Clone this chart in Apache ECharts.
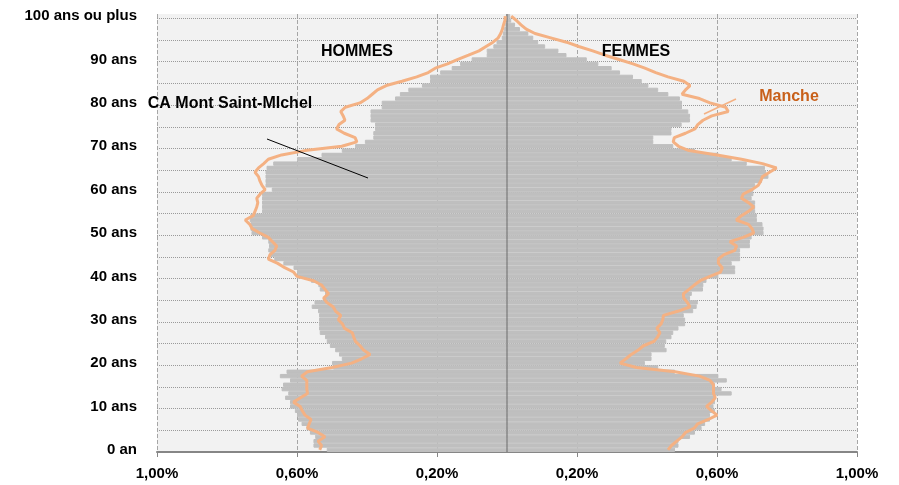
<!DOCTYPE html>
<html>
<head>
<meta charset="utf-8">
<script src="https://cdn.jsdelivr.net/npm/echarts@6/dist/echarts.min.js"></script>
<style>
  html, body { margin: 0; padding: 0; background: #fff; }
  #chart { width: 899px; height: 485px; }
</style>
</head>
<body>
<div id="chart"></div>
<script>
// ages 0 .. 100 (bottom to top)
var ages = [];
for (var a = 0; a <= 100; a++) { ages.push(String(a)); }

// part of each age in the population, in %
var caHommes = [
  0.515, 0.553, 0.553, 0.548, 0.563, 0.573, 0.587, 0.597, 0.600, 0.606,
  0.620, 0.620, 0.634, 0.625, 0.644, 0.640, 0.620, 0.649, 0.630, 0.497,
  0.500, 0.472, 0.480, 0.491, 0.506, 0.515, 0.520, 0.535, 0.537, 0.537,
  0.537, 0.537, 0.540, 0.558, 0.550, 0.520, 0.520, 0.535, 0.539, 0.560,
  0.600, 0.600, 0.610, 0.639, 0.665, 0.677, 0.682, 0.680, 0.682, 0.700,
  0.730, 0.733, 0.733, 0.735, 0.733, 0.700, 0.700, 0.700, 0.700, 0.700,
  0.672, 0.690, 0.690, 0.690, 0.690, 0.687, 0.668, 0.600, 0.530, 0.472,
  0.434, 0.406, 0.382, 0.382, 0.377, 0.377, 0.390, 0.390, 0.390, 0.358,
  0.358, 0.320, 0.306, 0.282, 0.243, 0.220, 0.220, 0.191, 0.158, 0.134,
  0.101, 0.058, 0.058, 0.039, 0.030, 0.015, 0.012, 0.008, 0.005, 0.003,
  0.003
];
var caFemmes = [
  0.480, 0.490, 0.490, 0.523, 0.537, 0.556, 0.566, 0.580, 0.580, 0.594,
  0.590, 0.594, 0.594, 0.642, 0.613, 0.594, 0.628, 0.604, 0.480, 0.432,
  0.394, 0.413, 0.413, 0.456, 0.451, 0.455, 0.470, 0.475, 0.490, 0.509,
  0.509, 0.505, 0.532, 0.542, 0.545, 0.523, 0.528, 0.560, 0.561, 0.570,
  0.604, 0.652, 0.652, 0.642, 0.666, 0.666, 0.666, 0.694, 0.694, 0.699,
  0.733, 0.733, 0.730, 0.714, 0.714, 0.709, 0.709, 0.709, 0.699, 0.704,
  0.704, 0.709, 0.728, 0.747, 0.740, 0.737, 0.685, 0.642, 0.604, 0.537,
  0.475, 0.418, 0.418, 0.470, 0.470, 0.499, 0.523, 0.523, 0.518, 0.500,
  0.500, 0.494, 0.461, 0.432, 0.404, 0.385, 0.360, 0.323, 0.299, 0.261,
  0.228, 0.170, 0.147, 0.109, 0.089, 0.075, 0.061, 0.037, 0.023, 0.012,
  0.009
];
var mancheHommes = [
  0.535, 0.530, 0.540, 0.520, 0.540, 0.570, 0.565, 0.560, 0.577, 0.585,
  0.591, 0.610, 0.590, 0.570, 0.572, 0.572, 0.572, 0.587, 0.570, 0.500,
  0.444, 0.415, 0.391, 0.410, 0.420, 0.433, 0.438, 0.442, 0.464, 0.470,
  0.482, 0.475, 0.490, 0.497, 0.515, 0.524, 0.510, 0.520, 0.530, 0.553,
  0.600, 0.610, 0.635, 0.655, 0.682, 0.677, 0.663, 0.658, 0.670, 0.682,
  0.706, 0.728, 0.735, 0.748, 0.725, 0.720, 0.715, 0.712, 0.715, 0.705,
  0.691, 0.700, 0.706, 0.710, 0.720, 0.710, 0.695, 0.682, 0.644, 0.577,
  0.472, 0.429, 0.434, 0.465, 0.487, 0.480, 0.463, 0.468, 0.475, 0.462,
  0.420, 0.400, 0.385, 0.370, 0.345, 0.300, 0.258, 0.225, 0.205, 0.170,
  0.142, 0.110, 0.080, 0.060, 0.040, 0.025, 0.018, 0.013, 0.010, 0.006,
  0.005
];
var mancheFemmes = [
  0.460, 0.470, 0.485, 0.500, 0.510, 0.535, 0.545, 0.575, 0.600, 0.585,
  0.570, 0.585, 0.595, 0.590, 0.590, 0.590, 0.580, 0.550, 0.480, 0.370,
  0.323, 0.340, 0.355, 0.375, 0.390, 0.420, 0.430, 0.437, 0.428, 0.440,
  0.445, 0.447, 0.490, 0.523, 0.515, 0.505, 0.504, 0.520, 0.535, 0.552,
  0.580, 0.610, 0.615, 0.604, 0.604, 0.620, 0.651, 0.656, 0.637, 0.675,
  0.705, 0.700, 0.690, 0.655, 0.670, 0.690, 0.705, 0.690, 0.670, 0.675,
  0.700, 0.718, 0.725, 0.730, 0.750, 0.770, 0.730, 0.670, 0.600, 0.520,
  0.490, 0.475, 0.478, 0.510, 0.537, 0.545, 0.560, 0.585, 0.632, 0.625,
  0.580, 0.550, 0.500, 0.510, 0.523, 0.505, 0.460, 0.425, 0.394, 0.360,
  0.320, 0.280, 0.245, 0.205, 0.170, 0.125, 0.080, 0.055, 0.040, 0.027,
  0.012
];

// x axis: -1 .. 1 with a tick every 0.4 (labels shown without sign)
var xMin = -1, xMax = 1, xStep = 0.4;

var font = '"Liberation Sans", Arial, sans-serif';
var grey = '#BFBFBF';
var orange = '#F4B183';

function neg(arr) {
  return arr.map(function (v) { return -v; });
}

var chart = echarts.init(document.getElementById('chart'), null, {renderer: 'canvas'});

chart.setOption({
  animation: false,
  backgroundColor: '#fff',
  grid: {
    left: 157,
    right: 42,
    top: 14,
    bottom: 33,
    show: true,
    backgroundColor: '#F2F2F2',
    borderWidth: 0
  },
  xAxis: {
    type: 'value',
    min: xMin,
    max: xMax,
    interval: xStep,
    axisLine: { show: true, onZero: false, lineStyle: { color: '#868686', width: 2 } },
    axisTick: { show: true, length: 5, lineStyle: { color: '#868686' } },
    axisLabel: {
      margin: 14,
      color: '#000',
      fontFamily: font,
      fontWeight: 'bold',
      fontSize: 15,
      formatter: function (v) {
        return Math.abs(v).toFixed(2).replace('.', ',') + '%';
      }
    },
    splitLine: { show: true, lineStyle: { color: '#A6A6A6', type: [4, 2], width: 1 } }
  },
  yAxis: {
    type: 'category',
    data: ages,
    axisLine: { show: false, onZero: false },
    axisTick: { show: false },
    axisLabel: {
      margin: 20,
      color: '#000',
      fontFamily: font,
      fontWeight: 'bold',
      fontSize: 15,
      interval: function (i) { return i % 10 === 0; },
      formatter: function (v) {
        if (v === '100') return '100 ans ou plus';
        if (v === '0') return '0 an';
        return v + ' ans';
      }
    },
    splitLine: {
      show: true,
      showMaxLine: false,
      interval: function (i) { return i % 5 === 0 && i > 0; },
      lineStyle: { color: '#9A9A9A', type: [1, 1], width: 1 }
    }
  },
  series: [
    {
      name: 'CA Mont Saint-Michel hommes',
      type: 'bar',
      data: neg(caHommes),
      barWidth: '100%',
      barGap: '-100%',
      itemStyle: { color: grey, borderColor: grey, borderWidth: 1 },
      z: 2,
      markLine: {
        silent: true,
        symbol: 'none',
        label: { show: false },
        lineStyle: { color: '#868686', type: 'solid', width: 1.5 },
        data: [{ xAxis: 0 }]
      }
    },
    {
      name: 'CA Mont Saint-Michel femmes',
      type: 'bar',
      data: caFemmes,
      barWidth: '100%',
      barGap: '-100%',
      itemStyle: { color: grey, borderColor: grey, borderWidth: 1 },
      z: 2
    },
    {
      name: 'Manche hommes',
      type: 'line',
      data: neg(mancheHommes),
      showSymbol: false,
      lineStyle: { color: orange, width: 3 },
      z: 5
    },
    {
      name: 'Manche femmes',
      type: 'line',
      data: mancheFemmes,
      showSymbol: false,
      lineStyle: { color: orange, width: 3 },
      z: 5
    }
  ],
  graphic: [
    { type: 'text', x: 357, y: 52, style: { text: 'HOMMES', font: 'bold 16px ' + font, fill: '#000', align: 'center', verticalAlign: 'middle' }, z: 10 },
    { type: 'text', x: 636, y: 52, style: { text: 'FEMMES', font: 'bold 16px ' + font, fill: '#000', align: 'center', verticalAlign: 'middle' }, z: 10 },
    { type: 'text', x: 230, y: 104, style: { text: 'CA Mont Saint-MIchel', font: 'bold 16px ' + font, fill: '#000', align: 'center', verticalAlign: 'middle' }, z: 10 },
    { type: 'text', x: 789, y: 97, style: { text: 'Manche', font: 'bold 16px ' + font, fill: '#C8601A', align: 'center', verticalAlign: 'middle' }, z: 10 },
    { type: 'line', shape: { x1: 267, y1: 139, x2: 368, y2: 178 }, style: { stroke: '#000', lineWidth: 1 }, z: 10 },
    { type: 'line', shape: { x1: 736, y1: 99, x2: 704, y2: 114 }, style: { stroke: orange, lineWidth: 1.5 }, z: 10 }
  ]
});
</script>
</body>
</html>
